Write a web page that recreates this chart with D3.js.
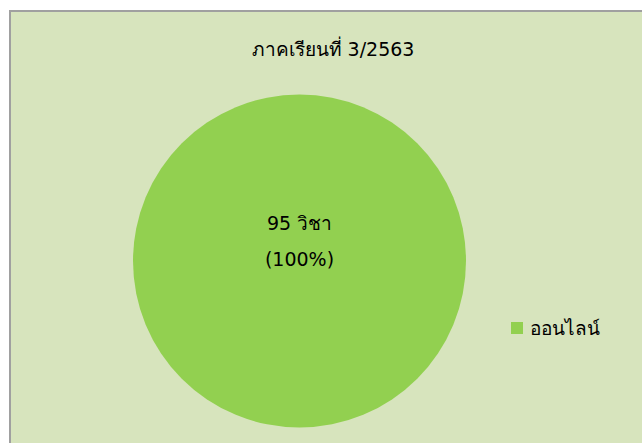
<!DOCTYPE html>
<html>
<head>
<meta charset="utf-8">
<script src="https://cdn.jsdelivr.net/npm/d3@7"></script>
<style>
  body { margin: 0; background: #fff; }
  svg text { font-family: "DejaVu Sans", "Noto Sans", sans-serif; fill: #000; }
</style>
</head>
<body>
<svg id="chart" width="642" height="443"></svg>
<script>
"use strict";

const title = "ภาคเรียนที่ 3/2563";
const categories = ["ออนไลน์"];
const counts = [95];
const colors = ["#92d050"];

const svg = d3.select("#chart");

// chart area, clipped by the window on the right and bottom
svg.append("rect")
  .attr("x", 10).attr("y", 11)
  .attr("width", 660).attr("height", 460)
  .attr("fill", "#d7e4bd")
  .attr("stroke", "#a0a0a0")
  .attr("stroke-width", 2);

svg.append("text")
  .attr("x", 333).attr("y", 56)
  .attr("text-anchor", "middle")
  .attr("font-size", 19)
  .text(title);

const cx = 299.5, cy = 261, r = 166.5;
const total = d3.sum(counts);

const pie = d3.pie().sort(null)(counts);
const arc = d3.arc().innerRadius(0).outerRadius(r);

const g = svg.append("g").attr("transform", `translate(${cx},${cy})`);

g.selectAll("path")
  .data(pie)
  .join("path")
  .attr("d", arc)
  .attr("fill", (d, i) => colors[i]);

const labelArc = d3.arc().innerRadius(0).outerRadius(0);
pie.forEach((d, i) => {
  const [lx, ly] = pie.length === 1 ? [0, 0] : labelArc.centroid(d);
  const t = g.append("text")
    .attr("text-anchor", "middle")
    .attr("font-size", 19);
  t.append("tspan").attr("x", lx).attr("y", ly - 31).text(`${counts[i]} วิชา`);
  t.append("tspan").attr("x", lx).attr("y", ly + 5)
    .text(`(${d3.format(".0%")(counts[i] / total)})`);
});

// legend
const legend = svg.append("g").attr("transform", "translate(511,322)");
categories.forEach((c, i) => {
  legend.append("rect")
    .attr("x", 0).attr("y", i * 24)
    .attr("width", 12).attr("height", 12)
    .attr("fill", colors[i]);
  legend.append("text")
    .attr("x", 19).attr("y", i * 24 + 13)
    .attr("font-size", 19)
    .text(c);
});
</script>
</body>
</html>
